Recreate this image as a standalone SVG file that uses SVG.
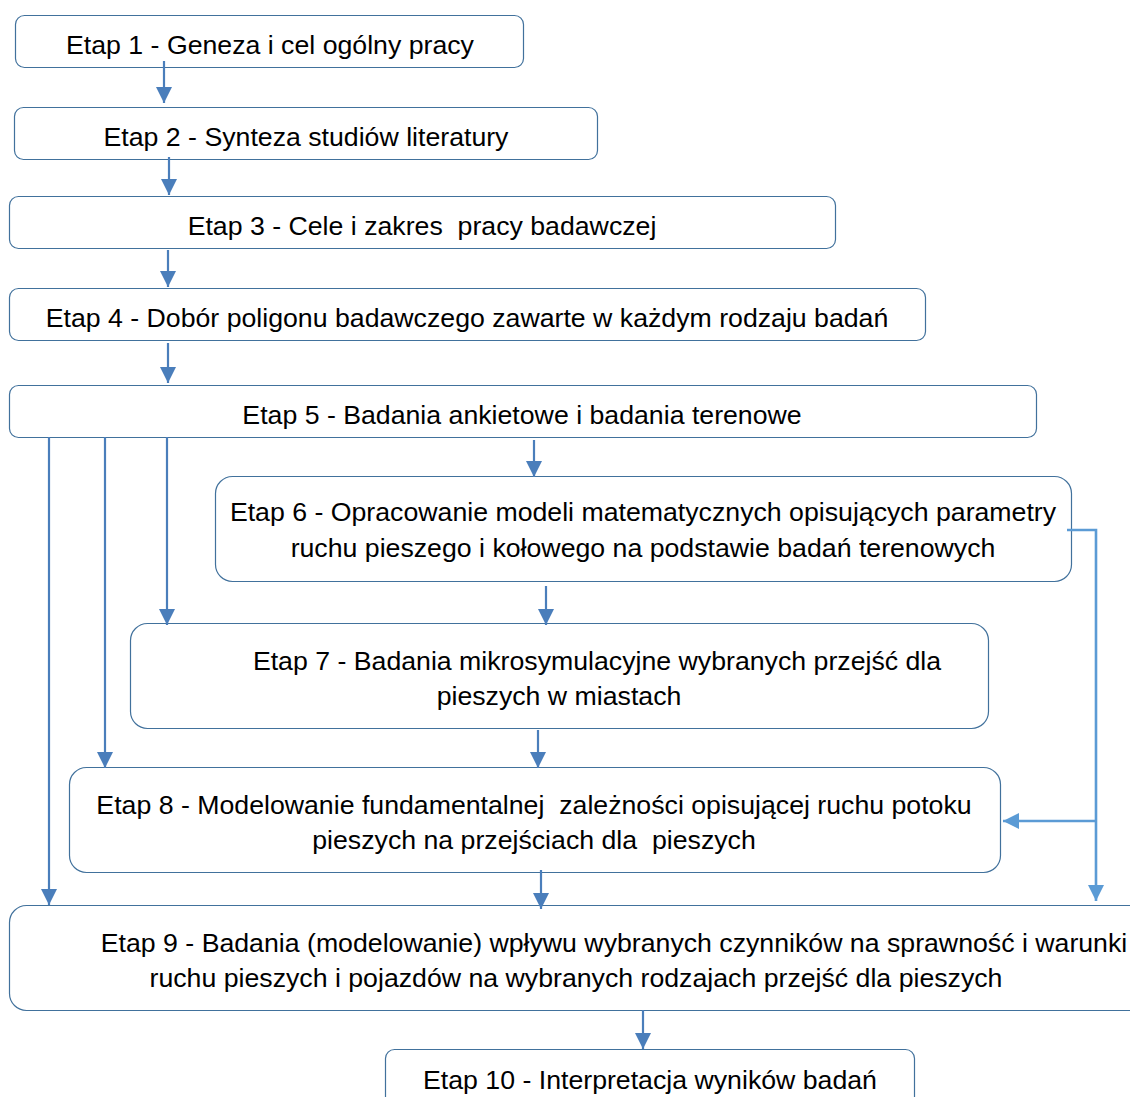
<svg xmlns="http://www.w3.org/2000/svg" width="1130" height="1097" viewBox="0 0 1130 1097">
<defs>
<style>
.box{fill:#fff;stroke:#41719c;stroke-width:1.2}
.t{font-family:"Liberation Sans",Arial,sans-serif;font-size:26.7px;fill:#000;text-anchor:middle;white-space:pre}
.c{fill:none;stroke:#4a7ebb;stroke-width:2.2}
.c2{fill:none;stroke:#5b9bd5;stroke-width:2.6}
</style>
<marker id="a" viewBox="0 0 16 16" refX="16" refY="8" markerWidth="16" markerHeight="16" orient="auto" markerUnits="userSpaceOnUse"><path d="M0,0L16,8L0,16z" fill="#4a7ebb"/></marker>
<marker id="b" viewBox="0 0 16 16" refX="16" refY="8" markerWidth="16" markerHeight="16" orient="auto" markerUnits="userSpaceOnUse"><path d="M0,0L16,8L0,16z" fill="#5b9bd5"/></marker>
</defs>
<rect width="1130" height="1097" fill="#fff"/>
<g id="n1"><rect class="box" x="15.5" y="15.5" width="508" height="52" rx="9"/><text class="t" x="270" y="54">Etap 1 - Geneza i cel ogólny pracy</text></g>
<g id="n2"><rect class="box" x="14.5" y="107.5" width="583" height="52" rx="9"/><text class="t" x="306" y="146">Etap 2 - Synteza studiów literatury</text></g>
<g id="n3"><rect class="box" x="9.5" y="196.5" width="826" height="52" rx="9"/><text class="t" x="422" y="235">Etap 3 - Cele i zakres  pracy badawczej</text></g>
<g id="n4"><rect class="box" x="9.5" y="288.5" width="916" height="52" rx="9"/><text class="t" x="467" y="327">Etap 4 - Dobór poligonu badawczego zawarte w każdym rodzaju badań</text></g>
<g id="n5"><rect class="box" x="9.5" y="385.5" width="1027" height="52" rx="9"/><text class="t" x="522" y="424">Etap 5 - Badania ankietowe i badania terenowe</text></g>
<g id="n6"><rect class="box" x="215.5" y="476.5" width="856" height="105" rx="17"/><text class="t" x="643" y="521">Etap 6 - Opracowanie modeli matematycznych opisujących parametry</text><text class="t" x="643" y="557">ruchu pieszego i kołowego na podstawie badań terenowych</text></g>
<g id="n7"><rect class="box" x="130.5" y="623.5" width="858" height="105" rx="17"/><text class="t" x="597" y="670">Etap 7 - Badania mikrosymulacyjne wybranych przejść dla</text><text class="t" x="559" y="705">pieszych w miastach</text></g>
<g id="n8"><rect class="box" x="69.5" y="767.5" width="931" height="105" rx="17"/><text class="t" x="534" y="814">Etap 8 - Modelowanie fundamentalnej  zależności opisującej ruchu potoku</text><text class="t" x="534" y="849">pieszych na przejściach dla  pieszych</text></g>
<g id="n9"><rect class="box" x="9.5" y="905.5" width="1140" height="105" rx="17"/><text class="t" x="614" y="952">Etap 9 - Badania (modelowanie) wpływu wybranych czynników na sprawność i warunki</text><text class="t" x="576" y="987">ruchu pieszych i pojazdów na wybranych rodzajach przejść dla pieszych</text></g>
<g id="n10"><rect class="box" x="385.5" y="1049.5" width="529" height="60" rx="9"/><text class="t" x="650" y="1089">Etap 10 - Interpretacja wyników badań</text></g>
<g id="connectors">
<path class="c" d="M164,61V103" marker-end="url(#a)"/>
<path class="c" d="M169,157V195" marker-end="url(#a)"/>
<path class="c" d="M168,250V287" marker-end="url(#a)"/>
<path class="c" d="M168,343V383" marker-end="url(#a)"/>
<path class="c" d="M534,440V477" marker-end="url(#a)"/>
<path class="c" d="M546,586V625" marker-end="url(#a)"/>
<path class="c" d="M538,730V768" marker-end="url(#a)"/>
<path class="c" d="M541,870V909" marker-end="url(#a)"/>
<path class="c" d="M643,1010V1049" marker-end="url(#a)"/>
<path class="c" d="M49,437V905" marker-end="url(#a)"/>
<path class="c" d="M105,437V768" marker-end="url(#a)"/>
<path class="c" d="M167,437V625" marker-end="url(#a)"/>
<path class="c2" d="M1067,530H1096V901" marker-end="url(#b)"/>
<path class="c2" d="M1096,821H1003" marker-end="url(#b)"/>
</g>
</svg>
